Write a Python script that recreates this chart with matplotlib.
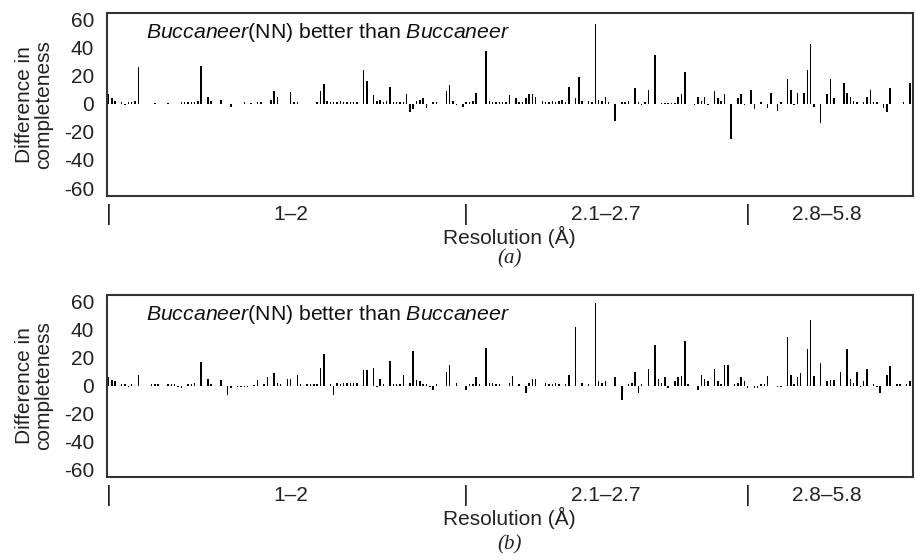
import matplotlib
matplotlib.use("Agg")
import matplotlib.pyplot as plt
import matplotlib.transforms as mtransforms
import numpy as np

plt.rcParams['font.family'] = ['Liberation Sans', 'DejaVu Sans']
plt.rcParams['mathtext.fontset'] = 'custom'
plt.rcParams['mathtext.it'] = 'Liberation Sans:italic'
plt.rcParams['mathtext.rm'] = 'Liberation Sans'
plt.rcParams['axes.unicode_minus'] = False

# ---- data: structure slot (sorted by resolution) and difference in completeness ----
slots_a = [0, 1, 2, 4, 5, 6, 7, 8, 9,
           14, 18, 22, 23, 24, 25, 26, 27, 28,
           30, 31, 34, 37, 41, 43, 45, 46, 49, 50, 51, 55, 56, 57,
           63, 64, 65, 66, 67, 68, 69, 70, 71, 72, 73, 74, 75,
           77, 78, 80, 81, 82, 83, 84, 85, 86, 87, 88, 89, 90, 91, 92, 93, 94, 95, 96,
           98, 99, 102, 103, 104, 105, 107, 108, 109, 110, 111, 114, 115, 116, 117,
           118, 119, 120, 121, 123, 124, 125, 126, 127, 128, 129, 131, 132, 133, 134,
           135, 136, 137, 138, 139, 141, 142, 143, 145, 146, 147, 148, 149, 150, 151,
           153, 155, 156, 157, 159, 160, 161, 162, 163, 165, 167, 168, 169, 170, 171,
           172, 173, 174, 177, 178, 179, 180, 181, 183, 184, 185, 186, 188, 190, 191,
           192, 194, 195, 197, 199, 200, 202, 203, 205, 206, 207, 208, 210, 211, 212,
           213, 215, 217, 218, 219, 222, 223, 224, 225, 226, 228, 229, 230, 231, 232,
           234, 235, 236, 240, 242]
diff_a = [7, 4, 2, 1, -1, 1, 1, 2, 26,
          0.5, 0.5, 1, 1, 1, 1, 1, 2, 27,
          5, 2, 3, -2, 1, 0.5, 1, 1, 3, 9.5, 5, 8.5, 1, 1,
          1, 9, 14, 2, 1, 1, 1, 2, 1, 1, 1, 1, 1,
          24, 16, 6, 2, 3, 1, 2, 12, 1, 1, 1, 1, 7, -6, -4, 2, 3, 4, -3,
          1, 1, 9.5, 13.5, 2, -1, -2, 1, 1, 2, 8, 38, 2, 1, 1,
          1, 1, 1, 6, 4, 1, 1, 4, 7, 7, 5, 2, 1, 1, 2,
          1, 2, 3, 1, 12, 4, 19, 2, 2, 1, 57, 3, 2, 5, 1,
          -12, 1, 1, 2, 11, 1, -1, 1, 10, 35, 0.5, 0.5, 0.5, 0.5, 0.5,
          5, 7, 23, -1, 5, 2, 5, -1, 9, 4, 2, 7, -25, 4, 7,
          -1, 10, -4, 1, -3, 8, -5, 1, 18, 10, -1, 8, 8, 24, 43,
          -2, -14, 7, 18, 4, 15, 8, 5, 2, 1, 1, 5, 10, 1, 1,
          -3, -6, 11, 1, 15]

slots_b = [0, 1, 2, 4, 5, 6, 7, 9,
           13, 14, 15, 18, 19, 20, 21, 22, 24, 25, 26, 28,
           30, 31, 34, 36, 37, 39, 40, 41, 42, 44, 45, 47, 48, 50, 51, 52, 54, 55, 57,
           58, 60, 61, 62, 63, 64, 65, 67, 68, 69, 70, 71, 72, 73, 74, 75, 77, 78, 80,
           81, 82, 83, 85, 86, 87, 88, 89, 91, 92, 93, 94, 95, 96, 97, 98, 99, 102, 103,
           105, 108, 109, 110, 111, 112, 114, 115, 116, 117, 118,
           121, 122, 124, 126, 127, 128, 129, 132, 133, 134, 135, 136, 138, 139, 141,
           143, 145, 147, 148, 149, 150, 153, 155, 157, 158, 159, 160, 161, 163, 165,
           166, 167, 168, 169, 171, 172, 173, 174, 175, 178, 179, 180, 181,
           183, 184, 185, 186, 187, 189, 190, 191, 192, 193, 195, 196, 197, 198, 199,
           202, 203, 205, 206, 207, 208, 209, 211, 212, 213, 215, 217, 218, 219, 221,
           223, 224, 225, 226, 227, 228, 229, 231, 232, 233, 235, 236, 238, 239, 241, 242]
diff_b = [6, 4, 3, 1, 1, -1, 1, 8,
          1, 1, 1, 1, 1, 1, -1, -2, 1, 1, 2, 17,
          5, 1, 4, -7, -2, -1, -1, -1, -1, 0.5, 4, 1, 6, 9, 2, 1, 5, 5, 8,
          1, 1, 1, 1, 1, 13, 23, 1, -7, 2, 1, 2, 2, 2, 2, 2, 11, 11, 13,
          -1, 5, 1, 18, 1, 1, 1, 8, 2, 25, 4, 3, 1, 1, -1, -3, 1, 10, 15,
          2, -3, 1, 1, 6, 1, 27, 2, 2, 1, 1,
          2, 7, 1, -5, 2, 5, 5, 2, 1, 1, 2, 1, 1, 8, 42,
          2, 1, 59, 3, 2, 3, 6, -10, 1, 2, 10, -5, 1, 12, 29,
          5, 2, 6, -2, 3, 6, 7, 32, 1, -3, 8, 5, 3,
          12, 3, 1, 15, 15, 1, 2, 6, 3, -2, -2, -2, 1, 1, 7,
          -1, -1, 35, 8, 1, 6, 9, 26, 47, 7, 16, 3, 4, 4, 10,
          26, 5, 2, 10, -1, 3, 12, 1, -1, -5, 8, 14, 1, 1, 1, 3]

group_labels = ['1\u20132', '2.1\u20132.7', '2.8\u20135.8']
group_starts = [0, 108, 193]
group_mids = [55, 150, 217]
y_ticks = [60, 40, 20, 0, -20, -40, -60]
panel_tags = ['(a)', '(b)']

FS = 15
fig = plt.figure(figsize=(9.15, 5.6), dpi=100)
ax_a = fig.add_axes([0.1164, 0.6505, 0.8814, 0.3268])
ax_b = fig.add_axes([0.1164, 0.1482, 0.8814, 0.3250])

for ax, slots, vals, tag, tag_y in [(ax_a, slots_a, diff_a, panel_tags[0], -0.345),
                                    (ax_b, slots_b, diff_b, panel_tags[1], -0.375)]:
    ax.bar(slots, vals, width=0.45, color='black', linewidth=0)
    ax.set_xlim(-0.6, 242.9)
    ax.set_ylim(-65.5, 65)
    ax.set_yticks(y_ticks)
    ax.set_xticks([])
    ax.tick_params(axis='y', length=0, pad=9, labelsize=FS, colors='#222222')
    for s in ax.spines.values():
        s.set_linewidth(1.5)
        s.set_color('#333333')
    ax.set_ylabel('Difference in\ncompleteness', fontsize=FS, labelpad=8,
                  linespacing=0.95, color='#222222')
    trans = mtransforms.blended_transform_factory(ax.transData, ax.transAxes)
    for g in group_starts:
        ax.text(g, -0.045, '|', transform=trans, ha='center', va='top',
                fontsize=16, color='#222222')
    for m, lab in zip(group_mids, group_labels):
        ax.text(m, -0.1, lab, transform=trans, ha='center', va='center',
                fontsize=FS, color='#222222')
    ax.text(0.5, -0.225, 'Resolution (\u00c5)', transform=ax.transAxes,
            ha='center', va='center', fontsize=15, color='#222222')
    ax.text(0.5, tag_y, tag, transform=ax.transAxes, ha='center', va='center',
            fontsize=FS, family='Liberation Serif', style='italic', color='#222222')
    ax.text(0.049, 0.862, r'$\mathit{Buccaneer}$(NN) better than $\mathit{Buccaneer}$',
            transform=ax.transAxes, ha='left', va='baseline', fontsize=15.3,
            color='#111111')

fig.savefig('out.png', dpi=100)
